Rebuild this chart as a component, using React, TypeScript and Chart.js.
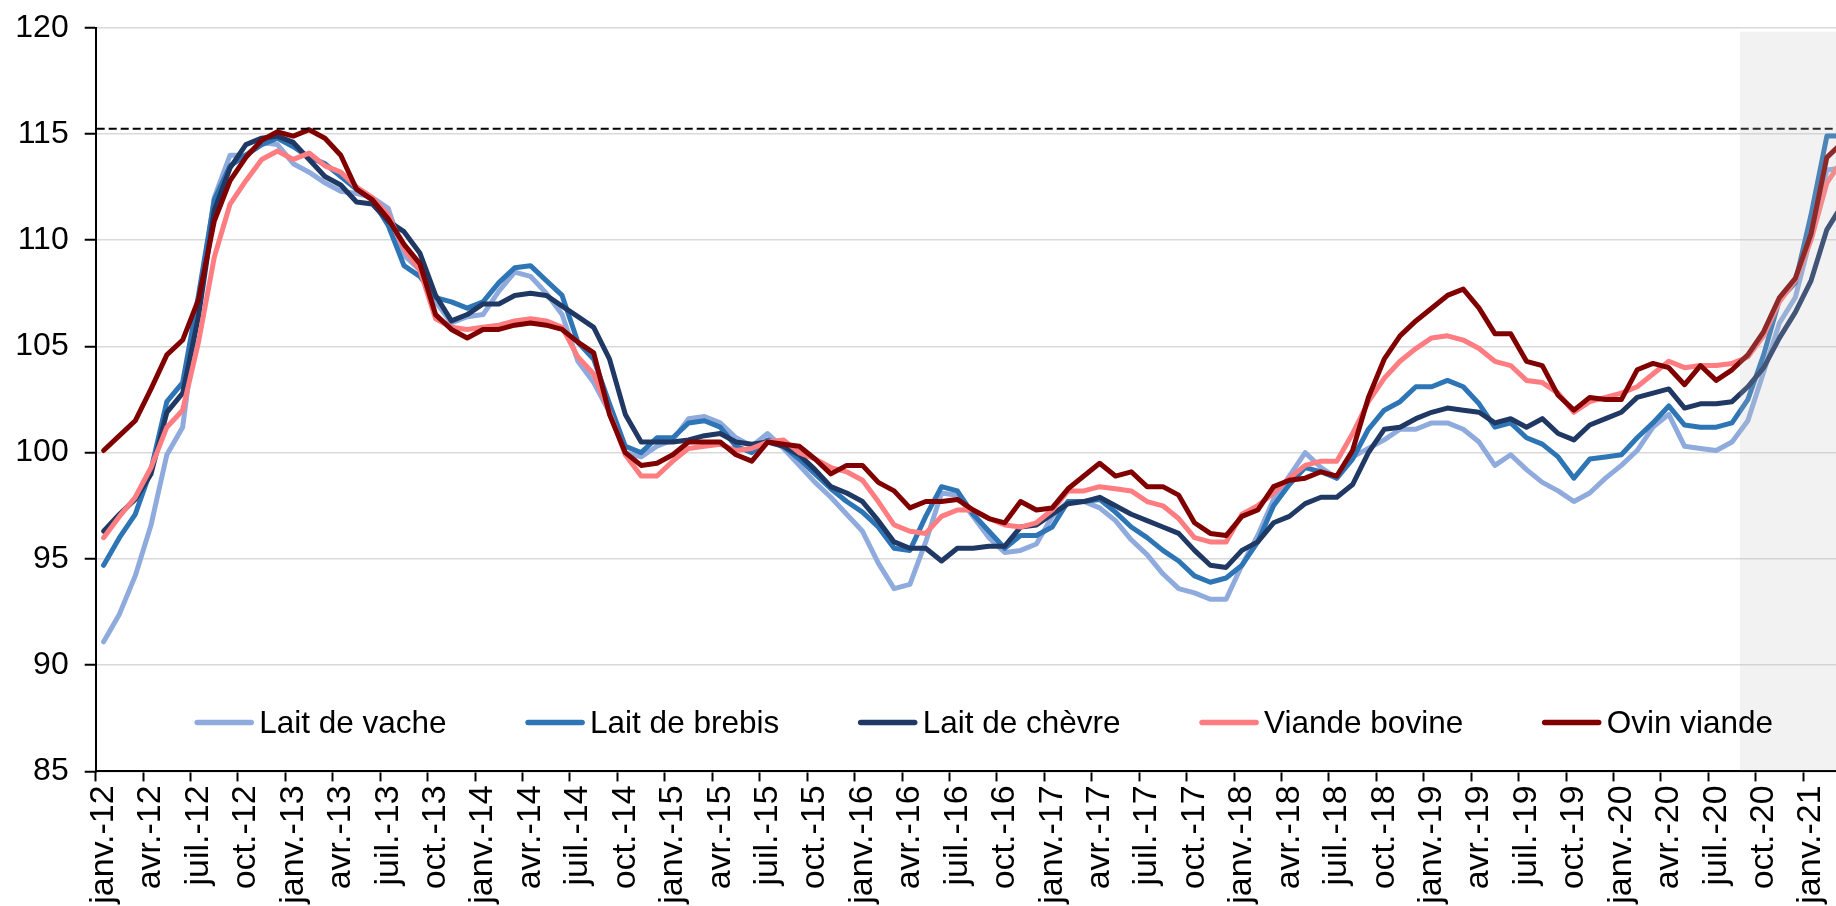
import React, { useEffect, useRef } from 'react';
import { Chart, registerables } from 'chart.js';

Chart.register(...registerables);

// ---- categories (monthly, janv.-12 .. mars-21) ----
const MONTH_NAMES = ['janv.', 'févr.', 'mars', 'avr.', 'mai', 'juin', 'juil.', 'août', 'sept.', 'oct.', 'nov.', 'déc.'];
const YEARS = ['12', '13', '14', '15', '16', '17', '18', '19', '20', '21'];
const MONTH_COUNT = 111;
const CATEGORIES: string[] = [];
YEARS.forEach((yy) => {
  MONTH_NAMES.forEach((m) => {
    if (CATEGORIES.length < MONTH_COUNT) CATEGORIES.push(`${m}-${yy}`);
  });
});
const TICK_EVERY = 3;

// ---- y axis ----
const Y_MIN = 85;
const Y_MAX = 120;
const Y_STEP = 5;
const REFERENCE_LEVEL = 115.25;
const SHADE_FROM = 'sept.-20';

// ---- series ----
const SERIES_NAMES = ['Lait de vache', 'Lait de brebis', 'Lait de chèvre', 'Viande bovine', 'Ovin viande'];
const SERIES_COLORS = ['#8FAADC', '#2E75B6', '#203864', '#FF7C80', '#800000'];

const LAIT_VACHE = [
  91.1, 92.4, 94.2, 96.6, 99.9, 101.2, 106.9, 112.0, 114.0, 114.0,
  114.6, 114.5, 113.6, 113.2, 112.7, 112.3, 112.2, 112.0, 111.5, 109.3,
  108.6, 107.1, 106.1, 106.4, 106.5, 107.6, 108.5, 108.3, 107.5, 106.5,
  104.3, 103.3, 101.9, 100.0, 99.8, 100.3, 100.6, 101.6, 101.7, 101.4,
  100.7, 100.3, 100.9, 100.2, 99.4, 98.6, 97.9, 97.1, 96.3, 94.8,
  93.6, 93.8, 95.8, 98.1, 98.0, 97.0, 96.0, 95.3, 95.4, 95.7,
  97.0, 97.7, 97.7, 97.4, 96.8, 95.9, 95.2, 94.3, 93.6, 93.4,
  93.1, 93.1, 94.7, 96.1, 97.8, 98.9, 100.0, 99.3, 98.8, 99.8,
  100.2, 100.6, 101.1, 101.1, 101.4, 101.4, 101.1, 100.5, 99.4, 99.9,
  99.2, 98.6, 98.2, 97.7, 98.1, 98.8, 99.4, 100.1, 101.2, 101.8,
  100.3, 100.2, 100.1, 100.5, 101.5, 103.8, 106.1, 107.3, 110.2, 113.3, 113.4,
];
const LAIT_BREBIS = [
  94.7, 96.0, 97.1, 99.2, 102.4, 103.3, 107.4, 111.9, 113.5, 114.0,
  114.5, 114.8, 114.4, 113.9, 113.6, 113.0, 112.4, 111.9, 110.7, 108.8,
  108.3, 107.3, 107.1, 106.8, 107.1, 108.0, 108.7, 108.8, 108.1, 107.4,
  105.2, 104.4, 102.3, 100.3, 100.0, 100.7, 100.7, 101.4, 101.5, 101.2,
  100.3, 100.0, 100.6, 100.3, 99.7, 99.0, 98.3, 97.7, 97.2, 96.5,
  95.5, 95.4, 97.0, 98.4, 98.2, 97.1, 96.3, 95.5, 96.1, 96.1,
  96.5, 97.7, 97.7, 97.8, 97.2, 96.5, 96.0, 95.4, 94.9, 94.2,
  93.9, 94.1, 94.7, 95.8, 97.5, 98.5, 99.3, 99.1, 98.8, 99.7,
  101.1, 102.0, 102.4, 103.1, 103.1, 103.4, 103.1, 102.3, 101.2, 101.4,
  100.7, 100.4, 99.8, 98.8, 99.7, 99.8, 99.9, 100.7, 101.4, 102.2,
  101.3, 101.2, 101.2, 101.4, 102.5, 104.6, 107.2, 108.0, 111.2, 114.9, 114.9,
];
const LAIT_CHEVRE = [
  96.3, 97.1, 97.8, 99.0, 101.9, 102.8, 106.4, 111.4, 113.4, 114.5,
  114.8, 114.9, 114.6, 113.8, 113.0, 112.6, 111.8, 111.7, 110.9, 110.4,
  109.4, 107.4, 106.2, 106.5, 107.0, 107.0, 107.4, 107.5, 107.4, 106.9,
  106.4, 105.9, 104.4, 101.8, 100.5, 100.5, 100.5, 100.6, 100.8, 100.9,
  100.5, 100.4, 100.5, 100.3, 99.9, 99.2, 98.4, 98.1, 97.7, 96.8,
  95.8, 95.5, 95.5, 94.9, 95.5, 95.5, 95.6, 95.6, 96.5, 96.6,
  97.1, 97.6, 97.7, 97.9, 97.5, 97.1, 96.8, 96.5, 96.2, 95.4,
  94.7, 94.6, 95.4, 95.8, 96.7, 97.0, 97.6, 97.9, 97.9, 98.5,
  100.0, 101.1, 101.2, 101.6, 101.9, 102.1, 102.0, 101.9, 101.4, 101.6,
  101.2, 101.6, 100.9, 100.6, 101.3, 101.6, 101.9, 102.6, 102.8, 103.0,
  102.1, 102.3, 102.3, 102.4, 103.1, 104.0, 105.4, 106.6, 108.1, 110.5, 111.7,
];
const VIANDE_BOVINE = [
  96.0, 97.0, 97.9, 99.3, 101.2, 102.0, 105.2, 109.2, 111.7, 112.8,
  113.8, 114.2, 113.8, 114.1, 113.5, 113.2, 112.5, 112.0, 111.2, 109.6,
  108.6, 106.3, 105.9, 105.8, 105.9, 106.0, 106.2, 106.3, 106.2, 105.9,
  104.5, 103.7, 101.9, 99.9, 98.9, 98.9, 99.6, 100.2, 100.3, 100.4,
  100.1, 100.2, 100.5, 100.6, 100.0, 99.7, 99.3, 99.1, 98.7, 97.7,
  96.6, 96.3, 96.2, 97.0, 97.3, 97.3, 96.9, 96.6, 96.5, 96.7,
  97.3, 98.2, 98.2, 98.4, 98.3, 98.2, 97.7, 97.5, 96.9, 96.0,
  95.8, 95.8, 97.1, 97.5, 98.1, 98.8, 99.4, 99.6, 99.6, 100.9,
  102.4, 103.5, 104.3, 104.9, 105.4, 105.5, 105.3, 104.9, 104.3, 104.1,
  103.4, 103.3, 102.8, 101.9, 102.4, 102.6, 102.8, 103.1, 103.7, 104.3,
  104.0, 104.1, 104.1, 104.2, 104.5, 105.5, 107.1, 108.1, 110.0, 112.7, 113.8,
];
const OVIN_VIANDE = [
  100.1, 100.8, 101.5, 103.0, 104.6, 105.3, 107.2, 110.9, 112.8, 113.9,
  114.7, 115.1, 114.9, 115.2, 114.8, 114.0, 112.4, 111.9, 111.0, 109.8,
  108.9, 106.5, 105.8, 105.4, 105.8, 105.8, 106.0, 106.1, 106.0, 105.8,
  105.2, 104.7, 101.8, 100.0, 99.4, 99.5, 99.9, 100.5, 100.5, 100.5,
  99.9, 99.6, 100.5, 100.4, 100.3, 99.7, 99.0, 99.4, 99.4, 98.6,
  98.2, 97.4, 97.7, 97.7, 97.8, 97.3, 96.9, 96.7, 97.7, 97.3,
  97.4, 98.3, 98.9, 99.5, 98.9, 99.1, 98.4, 98.4, 98.0, 96.7,
  96.2, 96.1, 97.0, 97.3, 98.4, 98.7, 98.8, 99.1, 98.9, 100.1,
  102.6, 104.4, 105.5, 106.2, 106.8, 107.4, 107.7, 106.8, 105.6, 105.6,
  104.3, 104.1, 102.7, 102.0, 102.6, 102.5, 102.5, 103.9, 104.2, 104.0,
  103.2, 104.1, 103.4, 103.9, 104.6, 105.7, 107.3, 108.2, 110.3, 113.9, 114.6,
];
const SERIES_VALUES = [LAIT_VACHE, LAIT_BREBIS, LAIT_CHEVRE, VIANDE_BOVINE, OVIN_VIANDE];

const FONT_FAMILY = '"Liberation Sans", Arial, Helvetica, sans-serif';
const CANVAS_W = 1856;
const CANVAS_H = 906;

const decorPlugin = {
  id: 'decor',
  afterDatasetsDraw(chart: any) {
    const { ctx, chartArea, scales } = chart;
    const xs = scales.x;
    const ys = scales.y;
    ctx.save();
    // dashed reference line
    const yRef = ys.getPixelForValue(REFERENCE_LEVEL);
    ctx.strokeStyle = '#000000';
    ctx.lineWidth = 2;
    ctx.setLineDash([8, 4]);
    ctx.beginPath();
    ctx.moveTo(chartArea.left + 1, yRef);
    ctx.lineTo(chartArea.right, yRef);
    ctx.stroke();
    ctx.setLineDash([]);
    // shaded (forecast) zone
    const idx = CATEGORIES.indexOf(SHADE_FROM);
    const xStart = (xs.getPixelForValue(idx - 1) + xs.getPixelForValue(idx)) / 2;
    ctx.fillStyle = 'rgba(193,193,193,0.21)';
    ctx.fillRect(xStart, chartArea.top + 4, chartArea.right - xStart, chartArea.bottom - chartArea.top - 5);
    ctx.restore();
  },
  afterDraw(chart: any) {
    const { ctx, chartArea } = chart;
    ctx.save();
    ctx.font = `31.5px ${FONT_FAMILY}`;
    ctx.textAlign = 'left';
    ctx.textBaseline = 'alphabetic';
    let x = chartArea.left + 99;
    const lineY = chartArea.bottom - 49;
    const textY = chartArea.bottom - 38;
    chart.data.datasets.forEach((ds: any) => {
      ctx.strokeStyle = ds.borderColor;
      ctx.lineWidth = 5.5;
      ctx.lineCap = 'round';
      ctx.beginPath();
      ctx.moveTo(x + 2.5, lineY);
      ctx.lineTo(x + 56.5, lineY);
      ctx.stroke();
      ctx.fillStyle = '#000000';
      ctx.fillText(ds.label, x + 64.5, textY);
      x += 64.5 + ctx.measureText(ds.label).width + 79;
    });
    ctx.restore();
  },
};

export default function App() {
  const canvasRef = useRef<HTMLCanvasElement | null>(null);

  useEffect(() => {
    if (!canvasRef.current) return;
    Chart.defaults.font.family = FONT_FAMILY;
    const chart = new Chart(canvasRef.current, {
      type: 'line',
      data: {
        labels: CATEGORIES,
        datasets: SERIES_NAMES.map((name, i) => ({
          label: name,
          data: SERIES_VALUES[i],
          borderColor: SERIES_COLORS[i],
          backgroundColor: SERIES_COLORS[i],
          borderWidth: 5,
          pointRadius: 0,
          pointHoverRadius: 0,
          tension: 0,
          fill: false,
          borderJoinStyle: 'round' as const,
          borderCapStyle: 'round' as const,
          order: SERIES_NAMES.length - 1 - i,
        })),
      },
      options: {
        responsive: false,
        animation: false,
        events: [],
        layout: { padding: { left: 0, right: 5.4, top: 27.7, bottom: 0 } },
        plugins: {
          legend: { display: false },
          tooltip: { enabled: false },
          title: { display: false },
        },
        scales: {
          x: {
            type: 'category',
            offset: true,
            grid: {
              display: true,
              offset: true,
              drawOnChartArea: false,
              drawTicks: true,
              tickLength: 10,
              tickWidth: 2,
              tickColor: (ctx: any) => (typeof ctx.index === 'number' && ctx.index % TICK_EVERY === 0 ? '#000000' : 'rgba(0,0,0,0)'),
            },
            border: { display: true, color: '#000000', width: 2 },
            ticks: {
              autoSkip: false,
              maxRotation: 90,
              minRotation: 90,
              padding: 4,
              color: '#000000',
              font: { size: 34, family: FONT_FAMILY },
              callback: (_v: any, index: number) => (index % TICK_EVERY === 0 ? CATEGORIES[index] : ''),
            },
            afterFit: (scale: any) => {
              scale.height = CANVAS_H - 771.4;
              scale.paddingLeft = 0;
              scale.paddingRight = 0;
            },
          },
          y: {
            type: 'linear',
            min: Y_MIN,
            max: Y_MAX,
            grid: {
              color: '#d9d9d9',
              lineWidth: 1.5,
              drawTicks: true,
              tickLength: 11,
              tickColor: '#000000',
              tickWidth: 2,
            },
            border: { display: true, color: '#000000', width: 2 },
            ticks: {
              stepSize: Y_STEP,
              padding: 16,
              color: '#000000',
              font: { size: 32, family: FONT_FAMILY },
            },
            afterFit: (scale: any) => {
              scale.width = 95.7;
              scale.paddingTop = 0;
              scale.paddingBottom = 0;
            },
          },
        },
      },
      plugins: [decorPlugin],
    });
    return () => chart.destroy();
  }, []);

  return (
    <div
      style={{
        position: 'fixed',
        left: 0,
        top: 0,
        width: '1836px',
        height: '906px',
        overflow: 'hidden',
        background: '#ffffff',
      }}
    >
      <canvas ref={canvasRef} width={CANVAS_W} height={CANVAS_H} style={{ display: 'block', width: `${CANVAS_W}px`, height: `${CANVAS_H}px` }} />
    </div>
  );
}
